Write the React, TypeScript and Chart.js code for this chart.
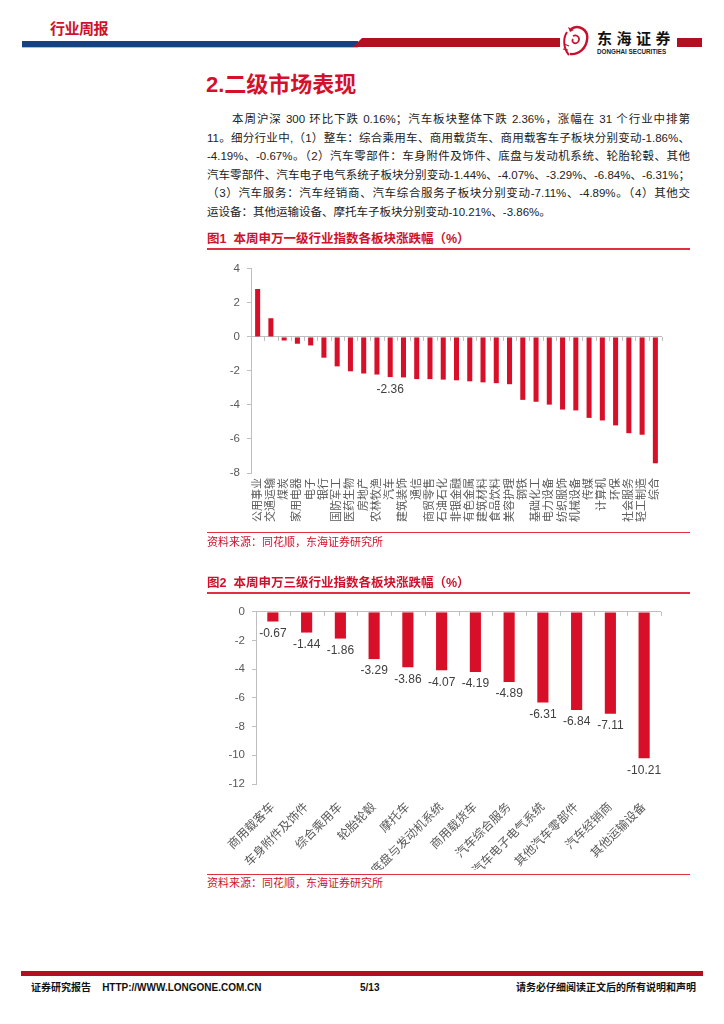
import React, { useEffect, useRef } from "react";
import { Chart, registerables } from "chart.js";

Chart.register(...registerables);

const categories1 = ['公用事业','交通运输','煤炭','家用电器','电子','银行','国防军工','医药生物','房地产','农林牧渔','汽车','建筑装饰','通信','商贸零售','石油石化','非银金融','有色金属','建筑材料','食品饮料','美容护理','钢铁','基础化工','电力设备','纺织服饰','机械设备','传媒','计算机','环保','社会服务','轻工制造','综合'];
const values1 = [2.82,1.10,-0.21,-0.40,-0.50,-1.22,-1.73,-2.02,-2.15,-2.21,-2.36,-2.38,-2.48,-2.48,-2.51,-2.55,-2.61,-2.67,-2.72,-2.78,-3.70,-3.81,-3.98,-4.27,-4.32,-4.76,-4.91,-5.20,-5.66,-5.75,-7.43];
const labeledIdx1 = [10];

const categories2 = ['商用载客车','车身附件及饰件','综合乘用车','轮胎轮毂','摩托车','底盘与发动机系统','商用载货车','汽车综合服务','汽车电子电气系统','其他汽车零部件','汽车经销商','其他运输设备'];
const values2 = [-0.67,-1.44,-1.86,-3.29,-3.86,-4.07,-4.19,-4.89,-6.31,-6.84,-7.11,-10.21];
const labeledIdx2 = [0,1,2,3,4,5,6,7,8,9,10,11];

const paraLines = [
  '本周沪深 300 环比下跌 0.16%；汽车板块整体下跌 2.36%，涨幅在 31 个行业中排第',
  '11。细分行业中,（1）整车：综合乘用车、商用载货车、商用载客车子板块分别变动-1.86%、',
  '-4.19%、-0.67%。（2）汽车零部件：车身附件及饰件、底盘与发动机系统、轮胎轮毂、其他',
  '汽车零部件、汽车电子电气系统子板块分别变动-1.44%、-4.07%、-3.29%、-6.84%、-6.31%；',
  '（3）汽车服务：汽车经销商、汽车综合服务子板块分别变动-7.11%、-4.89%。（4）其他交',
  '运设备：其他运输设备、摩托车子板块分别变动-10.21%、-3.86%。',
];

const RED = '#d0112b';
const BAR = '#d80f28';
const GRAY = '#bfbfbf';
const TXT = '#595959';
const FONT = "'Liberation Sans', Arial, 'Noto Sans CJK SC', sans-serif";
const CJK = "'Liberation Sans', Arial, 'Noto Sans CJK SC', sans-serif";

const helperPlugin = {
  id: 'helper',
  afterDatasetsDraw(chart: any, _args: any, opts: any) {
    const ctx = chart.ctx;
    const x = chart.scales.x;
    const y = chart.scales.y;
    const zy = y.getPixelForValue(0);
    const n = chart.data.labels.length;
    const step = x.getPixelForValue(1) - x.getPixelForValue(0);
    ctx.save();
    ctx.strokeStyle = GRAY;
    ctx.lineWidth = 1;
    ctx.beginPath();
    for (let i = 0; i <= n; i++) {
      const px = Math.round(x.getPixelForValue(0) - step / 2 + i * step) + 0.5;
      ctx.moveTo(px, zy);
      ctx.lineTo(px, zy + 4);
    }
    ctx.stroke();
    const meta = chart.getDatasetMeta(0);
    ctx.fillStyle = '#404040';
    ctx.font = `12px ${FONT}`;
    ctx.textAlign = 'center';
    ctx.textBaseline = 'top';
    (opts.idx || []).forEach((i: number) => {
      const el = meta.data[i];
      const v = chart.data.datasets[0].data[i];
      ctx.fillText(v.toFixed(2), el.x, el.y + opts.off);
    });
    ctx.restore();
  },
};

function makeChart(canvas: HTMLCanvasElement, cfg: any) {
  return new Chart(canvas, {
    type: 'bar',
    data: {
      labels: cfg.labels,
      datasets: [{ data: cfg.values, backgroundColor: BAR, borderWidth: 0, categoryPercentage: 1, barPercentage: cfg.barPct }],
    },
    options: {
      animation: false,
      responsive: false,
      layout: { padding: { top: cfg.padTop, right: cfg.padRight, left: 0, bottom: 0 } },
      plugins: {
        legend: { display: false },
        tooltip: { enabled: false },
        helper: { idx: cfg.idx, off: cfg.labelOff },
      } as any,
      scales: {
        x: {
          grid: { display: false },
          border: { display: false },
          ticks: {
            autoSkip: false,
            minRotation: cfg.rot,
            maxRotation: cfg.rot,
            padding: cfg.xPad,
            color: TXT,
            font: { size: cfg.xFont, family: CJK },
          },
          afterFit: (s: any) => { s.height = cfg.xHeight; },
        },
        y: {
          min: cfg.min,
          max: cfg.max,
          border: { display: true, color: GRAY },
          grid: {
            drawOnChartArea: true,
            color: (c: any) => (c.tick && c.tick.value === 0 ? GRAY : 'rgba(0,0,0,0)'),
            tickColor: GRAY,
            tickLength: 4,
          },
          ticks: { stepSize: 2, color: TXT, padding: 7, font: { size: 11.5, family: FONT } },
          afterFit: (s: any) => { s.width = cfg.yWidth; },
        },
      },
    },
    plugins: [helperPlugin],
  });
}

export default function App() {
  const c1 = useRef<HTMLCanvasElement>(null);
  const c2 = useRef<HTMLCanvasElement>(null);
  useEffect(() => {
    const ch1 = makeChart(c1.current!, {
      labels: categories1, values: values1, barPct: 0.38, idx: labeledIdx1, labelOff: 7,
      padTop: 9, padRight: 28, rot: 90, xPad: -3, xFont: 11, xHeight: 67,
      min: -8, max: 4, yWidth: 71,
    });
    const ch2 = makeChart(c2.current!, {
      labels: categories2, values: values2, barPct: 0.33, idx: labeledIdx2, labelOff: 6,
      padTop: 8, padRight: 29, rot: 45, xPad: 8, xFont: 12, xHeight: 86,
      min: -12, max: 0, yWidth: 76,
    });
    return () => { ch1.destroy(); ch2.destroy(); };
  }, []);

  const abs = (l: number, t: number, extra: any = {}) => ({ position: 'absolute' as const, left: l, top: t, ...extra });

  return (
    <div style={{ position: 'fixed', left: 0, top: 0, width: 724, height: 1024, background: '#fff', overflow: 'hidden', fontFamily: CJK }}>
      {/* header */}
      <div style={abs(50, 19, { fontSize: 15, fontWeight: 'bold', color: RED, letterSpacing: -0.5, lineHeight: '20px' })}>行业周报</div>
      <div style={abs(22, 41, { width: 336, height: 6, background: '#17427f', borderBottom: '1px solid #a9bfdc' })} />
      <svg style={abs(350, 38)} width={210} height={10}>
        <polygon points="3,9 12,0 210,0 210,9" fill="#b0101f" />
      </svg>
      <div style={abs(677, 38, { width: 25, height: 9, background: '#b0101f' })} />
      <svg style={abs(559, 24)} width={36} height={36} viewBox="0 0 36 36">
        <path d="M12 5 C20 0 30 6 28 16 C27 24 20 31 11 30" fill="none" stroke="#c8102e" strokeWidth={2.4} />
        <path d="M8 8 C4 14 4 24 10 31" fill="none" stroke="#c8102e" strokeWidth={2} />
        <path d="M14 12 C18 10 22 14 19 18 C16 21 12 18 14 15" fill="none" stroke="#c8102e" strokeWidth={1.6} />
        <path d="M9 3 L15 6 L11 8 Z" fill="#c8102e" />
        <path d="M5 20 L10 22 M4 25 L9 26" stroke="#c8102e" strokeWidth={1.2} />
      </svg>
      <div style={abs(597, 28, { fontSize: 15, fontWeight: 'bold', color: '#111', letterSpacing: 4.5, lineHeight: '19px', fontFamily: "'Noto Sans CJK SC', sans-serif", whiteSpace: 'nowrap' })}>东海证券</div>
      <div style={abs(597, 48, { fontSize: 6.3, fontWeight: 'bold', color: '#222', lineHeight: '7px', fontFamily: FONT, whiteSpace: 'nowrap' })}>DONGHAI SECURITIES</div>

      {/* title */}
      <div style={abs(206, 72, { fontSize: 22, fontWeight: 'bold', color: '#d4112a', lineHeight: '26px' })}>2.二级市场表现</div>

      {/* paragraph */}
      <div style={abs(207, 110, { width: 483, fontSize: 11.5, color: '#222', lineHeight: '18.6px' })}>
        {paraLines.map((l, i) => (
          <div key={i} style={{ textAlign: i < paraLines.length - 1 ? 'justify' : 'left', textAlignLast: i < paraLines.length - 1 ? 'justify' : 'left', paddingLeft: i === 0 ? 25 : 0, whiteSpace: 'nowrap' } as any}>{l}</div>
        ))}
      </div>

      {/* fig1 caption */}
      <div style={abs(207, 231, { fontSize: 12.5, fontWeight: 'bold', color: RED, lineHeight: '16px' })}>图1&nbsp;&nbsp;本周申万一级行业指数各板块涨跌幅（%）</div>
      <div style={abs(207, 248, { width: 483, height: 1.5, background: '#e0303f' })} />
      <canvas ref={c1} width={510} height={285} style={abs(180, 255)} />
      <div style={abs(207, 532, { width: 483, height: 1, background: '#e0303f' })} />
      <div style={abs(207, 535, { fontSize: 11, color: RED, lineHeight: '14px' })}>资料来源：同花顺，东海证券研究所</div>

      {/* fig2 caption */}
      <div style={abs(207, 575, { fontSize: 12.5, fontWeight: 'bold', color: RED, lineHeight: '16px' })}>图2&nbsp;&nbsp;本周申万三级行业指数各板块涨跌幅（%）</div>
      <div style={abs(207, 592, { width: 483, height: 1.5, background: '#e0303f' })} />
      <canvas ref={c2} width={510} height={272} style={abs(180, 598)} />
      <div style={abs(207, 874, { width: 483, height: 1, background: '#e0303f' })} />
      <div style={abs(207, 876, { fontSize: 11, color: RED, lineHeight: '14px' })}>资料来源：同花顺，东海证券研究所</div>

      {/* footer */}
      <div style={abs(21, 971, { width: 682, height: 5, background: '#b0101f' })} />
      <div style={abs(31, 982, { fontSize: 10, fontWeight: 'bold', color: '#111', lineHeight: '12px', whiteSpace: 'nowrap' })}>证券研究报告&nbsp;&nbsp;&nbsp;&nbsp;<span style={{ fontFamily: FONT }}>HTTP://WWW.LONGONE.COM.CN</span></div>
      <div style={abs(360, 982, { fontSize: 10, fontWeight: 'bold', color: '#111', lineHeight: '12px', fontFamily: FONT })}>5/13</div>
      <div style={abs(516, 982, { fontSize: 10, fontWeight: 'bold', color: '#111', lineHeight: '12px', width: 180, textAlign: 'right', whiteSpace: 'nowrap' })}>请务必仔细阅读正文后的所有说明和声明</div>
    </div>
  );
}
